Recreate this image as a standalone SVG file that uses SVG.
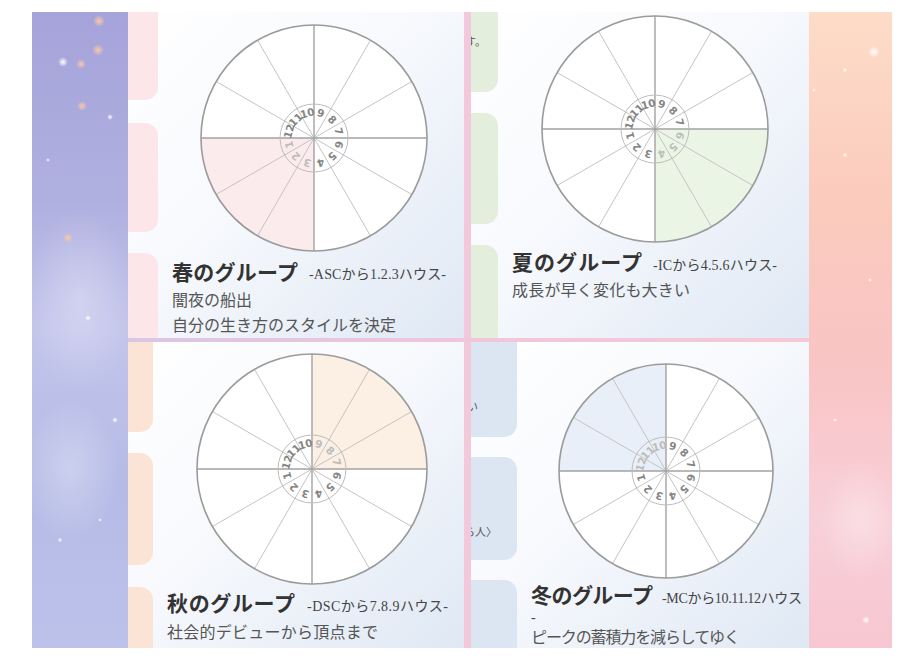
<svg xmlns="http://www.w3.org/2000/svg" width="924" height="660" viewBox="0 0 924 660">
<style>
.ol{fill:#fff;stroke:none}
.oc{fill:none;stroke:#9b9b9b;stroke-width:1.6}
.sp line{stroke:#c4c4c4;stroke-width:1;vector-effect:non-scaling-stroke}
.sp line.ax{stroke:#a2a2a2;stroke-width:1.4}
.ir{fill:none;stroke:#bdbdbd;stroke-width:1}
.n{font-family:"DejaVu Sans","Liberation Sans",sans-serif;font-size:10.5px;font-weight:bold;fill:#858585;text-anchor:middle}
.n.l{fill:#bcbcbc}
.t{font-family:"Noto Sans CJK JP",sans-serif;font-size:21px;font-weight:bold;fill:#333}
.s{font-family:"Liberation Serif","Noto Sans CJK JP",serif;font-size:14px;fill:#444}
.b{font-family:"Noto Sans CJK JP",sans-serif;font-size:16px;fill:#555}
.f{font-family:"Noto Sans CJK JP",sans-serif;font-size:11px;fill:#555}
.tp{fill:#fde6e9}.tg{fill:#e3efdc}.to{fill:#fbe4d5}.tb{fill:#dce6f2}
</style>
<defs>
<linearGradient id="pg" x1="0" y1="0" x2="1" y2="1">
<stop offset="0" stop-color="#ffffff"/><stop offset="0.45" stop-color="#f7f9fd"/><stop offset="1" stop-color="#dfe8f4"/>
</linearGradient>
<linearGradient id="lg" x1="0" y1="0" x2="0" y2="1">
<stop offset="0" stop-color="#a5a3da"/><stop offset="0.3" stop-color="#b0b0e0"/><stop offset="0.5" stop-color="#c2c4eb"/><stop offset="0.75" stop-color="#b5bbe6"/><stop offset="1" stop-color="#bcc2ea"/>
</linearGradient>
<linearGradient id="rg" x1="0" y1="0" x2="0" y2="1">
<stop offset="0" stop-color="#fddcc8"/><stop offset="0.3" stop-color="#fbcbbd"/><stop offset="0.55" stop-color="#f9c4c4"/><stop offset="0.8" stop-color="#f8d0d9"/><stop offset="1" stop-color="#f7c6d1"/>
</linearGradient>
<linearGradient id="hb" x1="0" y1="0" x2="1" y2="0">
<stop offset="0" stop-color="#d9c6e6"/><stop offset="0.5" stop-color="#f0c6da"/><stop offset="1" stop-color="#f5c9d5"/>
</linearGradient>
<radialGradient id="glo"><stop offset="0" stop-color="#fbc7a6"/><stop offset="1" stop-color="#fbc7a6" stop-opacity="0"/></radialGradient>
<radialGradient id="glw"><stop offset="0" stop-color="#ffffff"/><stop offset="1" stop-color="#ffffff" stop-opacity="0"/></radialGradient>
<radialGradient id="haze"><stop offset="0" stop-color="#ffffff" stop-opacity="0.3"/><stop offset="1" stop-color="#ffffff" stop-opacity="0"/></radialGradient>
<clipPath id="cTL"><rect x="128" y="12" width="336" height="326"/></clipPath>
<clipPath id="cTR"><rect x="471" y="12" width="338" height="326"/></clipPath>
<clipPath id="cBL"><rect x="128" y="342" width="336" height="306"/></clipPath>
<clipPath id="cBR"><rect x="471" y="342" width="338" height="306"/></clipPath>
<g id="spk" class="sp">
<line x1="-86.6" y1="-50" x2="86.6" y2="50"/><line x1="-86.6" y1="50" x2="86.6" y2="-50"/>
<line x1="-50" y1="-86.6" x2="50" y2="86.6"/><line x1="-50" y1="86.6" x2="50" y2="-86.6"/>
<line class="ax" x1="-100" y1="0" x2="100" y2="0"/><line class="ax" x1="0" y1="-100" x2="0" y2="100"/>
</g>
</defs>

<rect width="924" height="660" fill="#fff"/>

<!-- panels -->
<g id="panel-spring">
<rect x="128" y="12" width="336" height="326" fill="url(#pg)"/>
<g clip-path="url(#cTL)" class="tp">
<rect x="100" y="-20" width="58" height="120" rx="13"/>
<rect x="100" y="123" width="58" height="109" rx="13"/>
<rect x="100" y="253" width="58" height="110" rx="13"/>
</g>
</g>
<g id="panel-summer">
<rect x="471" y="12" width="338" height="326" fill="url(#pg)"/>
<g clip-path="url(#cTR)">
<g class="tg">
<rect x="440" y="-20" width="58" height="112" rx="13"/>
<rect x="440" y="113" width="58" height="111" rx="13"/>
<rect x="440" y="245" width="58" height="115" rx="13"/>
</g>
<text class="f" x="465" y="46">す。</text>
</g>
</g>
<g id="panel-autumn">
<rect x="128" y="342" width="336" height="306" fill="url(#pg)"/>
<g clip-path="url(#cBL)" class="to">
<rect x="100" y="320" width="53" height="112" rx="13"/>
<rect x="100" y="453" width="53" height="112" rx="13"/>
<rect x="100" y="587" width="53" height="100" rx="13"/>
</g>
</g>
<g id="panel-winter">
<rect x="471" y="342" width="338" height="306" fill="url(#pg)"/>
<g clip-path="url(#cBR)">
<g class="tb">
<rect x="440" y="320" width="77" height="117" rx="13"/>
<rect x="440" y="457" width="77" height="103" rx="13"/>
<rect x="440" y="580" width="77" height="100" rx="13"/>
</g>
<text class="f" x="467" y="411" font-size="12">い</text>
<text class="f" x="464" y="536">ら人〉</text>
</g>
</g>

<!-- dividers -->
<rect x="464" y="12" width="7" height="636" fill="#f3c8da"/>
<rect x="128" y="338" width="681" height="4" fill="url(#hb)"/>

<!-- left galaxy strip -->
<g id="left-strip">
<rect x="32" y="12" width="96" height="636" fill="url(#lg)"/>
<ellipse cx="80" cy="300" rx="55" ry="90" fill="url(#haze)"/>
<ellipse cx="70" cy="470" rx="50" ry="70" fill="url(#haze)"/>
<circle cx="99" cy="21" r="6" fill="url(#glo)"/>
<circle cx="98" cy="50" r="6" fill="url(#glo)"/>
<circle cx="81" cy="64" r="5" fill="url(#glo)"/>
<circle cx="63" cy="62" r="5" fill="url(#glw)"/>
<circle cx="82" cy="106" r="5" fill="url(#glo)"/>
<circle cx="68" cy="238" r="5" fill="url(#glo)"/>
<circle cx="110" cy="117" r="3" fill="url(#glw)"/>
<circle cx="88" cy="318" r="3" fill="url(#glw)"/>
<circle cx="48" cy="160" r="2" fill="url(#glw)"/>
<circle cx="115" cy="420" r="3" fill="url(#glw)"/>
<circle cx="60" cy="540" r="2.5" fill="url(#glw)"/>
<circle cx="100" cy="520" r="2" fill="url(#glw)"/>
</g>

<!-- right pink strip -->
<g id="right-strip">
<rect x="809" y="12" width="83" height="636" fill="url(#rg)"/>
<ellipse cx="860" cy="520" rx="40" ry="60" fill="url(#haze)"/>
<circle cx="874" cy="52" r="6" fill="url(#glw)"/>
<circle cx="845" cy="70" r="2.5" fill="url(#glw)"/>
<circle cx="814" cy="90" r="2" fill="url(#glw)"/>
<circle cx="845" cy="155" r="2.5" fill="url(#glw)"/>
<circle cx="870" cy="280" r="2" fill="url(#glw)"/>
<circle cx="835" cy="420" r="2" fill="url(#glw)"/>
<circle cx="866" cy="620" r="4" fill="url(#glw)"/>
</g>

<!-- wheels -->
<g id="wheel-spring" transform="translate(314,138)">
<circle class="ol" r="113"/>
<path d="M0,0 L-113,0 A113 113 0 0 0 0,113 Z" fill="#fcebec"/>
<use href="#spk" transform="scale(1.13)"/>
<circle class="ir" r="34"/>
<text class="n l" transform="rotate(-105)" y="-22">1</text>
<text class="n l" transform="rotate(-135)" y="-22">2</text>
<text class="n l" transform="rotate(-165)" y="-22">3</text>
<text class="n" transform="rotate(165)" y="-22">4</text>
<text class="n" transform="rotate(135)" y="-22">5</text>
<text class="n" transform="rotate(105)" y="-22">6</text>
<text class="n" transform="rotate(75)" y="-22">7</text>
<text class="n" transform="rotate(45)" y="-22">8</text>
<text class="n" transform="rotate(15)" y="-22">9</text>
<text class="n" transform="rotate(-15)" y="-22">10</text>
<text class="n" transform="rotate(-45)" y="-22">11</text>
<text class="n" transform="rotate(-75)" y="-22">12</text>
<circle class="oc" r="113"/>
</g>
<g id="wheel-summer" transform="translate(655,129)">
<circle class="ol" r="113"/>
<path d="M0,0 L0,113 A113 113 0 0 0 113,0 Z" fill="#ebf5e6"/>
<use href="#spk" transform="scale(1.13)"/>
<circle class="ir" r="34"/>
<text class="n" transform="rotate(-105)" y="-22">1</text>
<text class="n" transform="rotate(-135)" y="-22">2</text>
<text class="n" transform="rotate(-165)" y="-22">3</text>
<text class="n l" transform="rotate(165)" y="-22">4</text>
<text class="n l" transform="rotate(135)" y="-22">5</text>
<text class="n l" transform="rotate(105)" y="-22">6</text>
<text class="n" transform="rotate(75)" y="-22">7</text>
<text class="n" transform="rotate(45)" y="-22">8</text>
<text class="n" transform="rotate(15)" y="-22">9</text>
<text class="n" transform="rotate(-15)" y="-22">10</text>
<text class="n" transform="rotate(-45)" y="-22">11</text>
<text class="n" transform="rotate(-75)" y="-22">12</text>
<circle class="oc" r="113"/>
</g>
<g id="wheel-autumn" transform="translate(312,469)">
<circle class="ol" r="115"/>
<path d="M0,0 L115,0 A115 115 0 0 0 0,-115 Z" fill="#fcefe3"/>
<use href="#spk" transform="scale(1.15)"/>
<circle class="ir" r="34"/>
<text class="n" transform="rotate(-105)" y="-22">1</text>
<text class="n" transform="rotate(-135)" y="-22">2</text>
<text class="n" transform="rotate(-165)" y="-22">3</text>
<text class="n" transform="rotate(165)" y="-22">4</text>
<text class="n" transform="rotate(135)" y="-22">5</text>
<text class="n" transform="rotate(105)" y="-22">6</text>
<text class="n l" transform="rotate(75)" y="-22">7</text>
<text class="n l" transform="rotate(45)" y="-22">8</text>
<text class="n l" transform="rotate(15)" y="-22">9</text>
<text class="n" transform="rotate(-15)" y="-22">10</text>
<text class="n" transform="rotate(-45)" y="-22">11</text>
<text class="n" transform="rotate(-75)" y="-22">12</text>
<circle class="oc" r="115"/>
</g>
<g id="wheel-winter" transform="translate(666,471)">
<circle class="ol" r="107"/>
<path d="M0,0 L0,-107 A107 107 0 0 0 -107,0 Z" fill="#e9eff8"/>
<use href="#spk" transform="scale(1.07)"/>
<circle class="ir" r="34"/>
<text class="n" transform="rotate(-105)" y="-22">1</text>
<text class="n" transform="rotate(-135)" y="-22">2</text>
<text class="n" transform="rotate(-165)" y="-22">3</text>
<text class="n" transform="rotate(165)" y="-22">4</text>
<text class="n" transform="rotate(135)" y="-22">5</text>
<text class="n" transform="rotate(105)" y="-22">6</text>
<text class="n" transform="rotate(75)" y="-22">7</text>
<text class="n" transform="rotate(45)" y="-22">8</text>
<text class="n" transform="rotate(15)" y="-22">9</text>
<text class="n l" transform="rotate(-15)" y="-22">10</text>
<text class="n l" transform="rotate(-45)" y="-22">11</text>
<text class="n l" transform="rotate(-75)" y="-22">12</text>
<circle class="oc" r="107"/>
</g>

<!-- captions -->
<g id="text-spring">
<text class="t" x="172" y="280" textLength="126">春のグループ</text>
<text class="s" x="309" y="279" textLength="137">-ASCから1.2.3ハウス-</text>
<text class="b" x="172" y="306" textLength="80">闇夜の船出</text>
<text class="b" x="172" y="331" textLength="224">自分の生き方のスタイルを決定</text>
</g>
<g id="text-summer">
<text class="t" x="512" y="270" textLength="130">夏のグループ</text>
<text class="s" x="653" y="270" textLength="124">-ICから4.5.6ハウス-</text>
<text class="b" x="512" y="296" textLength="178">成長が早く変化も大きい</text>
</g>
<g id="text-autumn">
<text class="t" x="167" y="611" textLength="128">秋のグループ</text>
<text class="s" x="307" y="611" textLength="141">-DSCから7.8.9ハウス-</text>
<text class="b" x="167" y="638" textLength="211">社会的デビューから頂点まで</text>
</g>
<g id="text-winter">
<text class="t" x="531" y="603" textLength="122">冬のグループ</text>
<text class="s" x="662" y="603" textLength="140">-MCから10.11.12ハウス</text>
<text class="s" x="531" y="622">-</text>
<text class="b" x="531" y="643" font-size="15" textLength="209">ピークの蓄積力を減らしてゆく</text>
</g>
</svg>
